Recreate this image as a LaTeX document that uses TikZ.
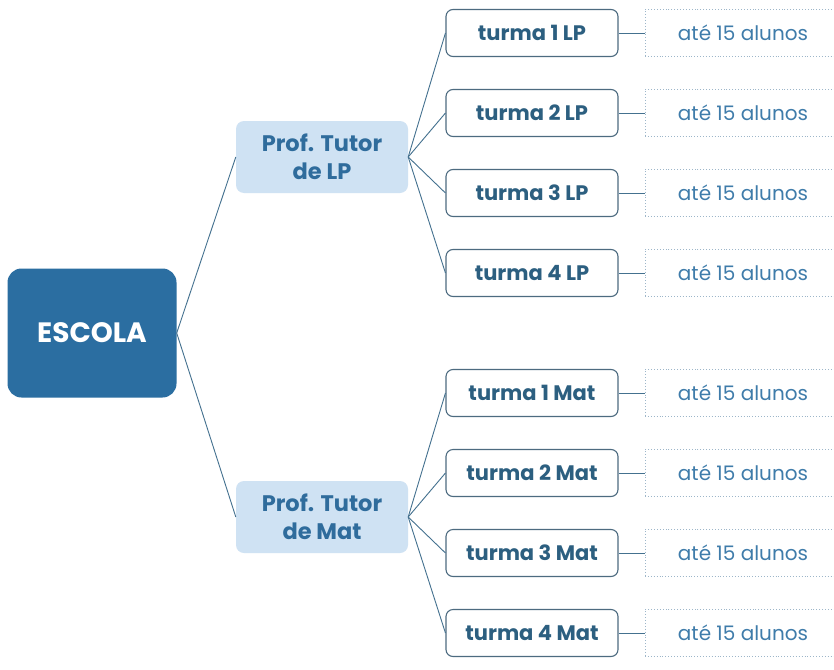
\documentclass[tikz,border=0pt]{standalone}
\usepackage{fontspec}
\setmainfont{Poppins}
\usepackage{tikz}

\definecolor{escolablue}{HTML}{2B6EA1}
\definecolor{tutorfill}{HTML}{CFE2F3}
\definecolor{tutortext}{HTML}{2F6C9C}
\definecolor{turmaline}{HTML}{4D6B80}
\definecolor{turmatext}{HTML}{2C5F80}
\definecolor{linkcol}{HTML}{44718F}
\definecolor{alunostext}{HTML}{3F7CAA}
\definecolor{dotcol}{HTML}{9DB6C9}

\tikzset{
  escola/.style={fill=escolablue, rounded corners=14pt, minimum width=169pt, minimum height=129pt,
    inner sep=0pt, text=white, font=\fontsize{28}{32}\selectfont\bfseries},
  tutor/.style={fill=tutorfill, rounded corners=8pt, minimum width=172pt, minimum height=72pt,
    inner sep=0pt, align=center, text=tutortext, font=\fontsize{22.5}{28}\selectfont\bfseries},
  turma/.style={draw=turmaline, line width=1.1pt, fill=white, rounded corners=7pt, minimum width=172pt,
    minimum height=47pt, inner sep=0pt, text=turmatext, font=\fontsize{21}{24}\selectfont\bfseries},
  alunos/.style={draw=dotcol, dotted, line width=0.9pt, minimum width=196pt, minimum height=47pt,
    inner sep=0pt, text=alunostext, font=\fontsize{20}{24}\selectfont},
  link/.style={draw=linkcol, line width=0.9pt}
}

\begin{document}
\begin{tikzpicture}[x=1pt, y=-1pt]
  \useasboundingbox[fill=white] (0,0) rectangle (834,669);

  % main node and tutors
  \node[escola] (escola) at (92,333) {ESCOLA};
  \node[tutor] (tlp) at (322,157) {Prof. Tutor\\de LP};
  \node[tutor] (tmat) at (322,517) {Prof. Tutor\\de Mat};
  \draw[link] (escola.east) -- (tlp.west);
  \draw[link] (escola.east) -- (tmat.west);

  % turmas LP
  \foreach \i/\y in {1/33, 2/113, 3/193, 4/273} {
    \node[turma] (lp\i) at (532,\y) {turma \i\ LP};
    \node[alunos] (alp\i) at (743,\y) {até 15 alunos};
    \draw[link] (tlp.east) -- (lp\i.west);
    \draw[link] (lp\i.east) -- (alp\i.west);
  }

  % turmas Mat
  \foreach \i/\y in {1/393, 2/473, 3/553, 4/633} {
    \node[turma] (mat\i) at (532,\y) {turma \i\ Mat};
    \node[alunos] (amat\i) at (743,\y) {até 15 alunos};
    \draw[link] (tmat.east) -- (mat\i.west);
    \draw[link] (mat\i.east) -- (amat\i.west);
  }
\end{tikzpicture}
\end{document}
